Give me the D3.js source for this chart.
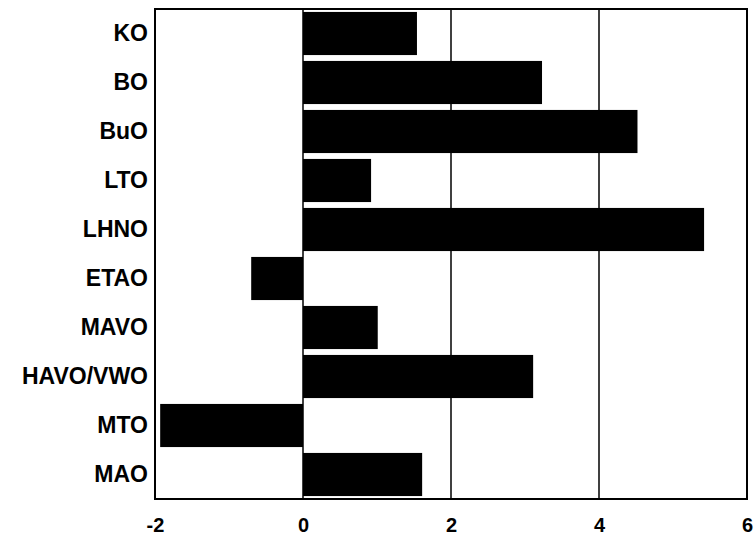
<!DOCTYPE html>
<html>
<head>
<meta charset="utf-8">
<script src="https://cdn.jsdelivr.net/npm/d3@7"></script>
<style>
  html, body { margin: 0; padding: 0; background: #fff; }
  svg { display: block; }
  text { font-family: "Liberation Sans", Arial, sans-serif; font-weight: bold; fill: #000; }
</style>
</head>
<body>
<svg id="chart" width="755" height="540"></svg>
<script>
const categories = ["KO", "BO", "BuO", "LTO", "LHNO", "ETAO", "MAVO", "HAVO/VWO", "MTO", "MAO"];
const values = [1.54, 3.23, 4.52, 0.92, 5.42, -0.70, 1.01, 3.11, -1.93, 1.61];
const xTicks = [-2, 0, 2, 4, 6];
const gridValues = [0, 2, 4];

const margin = { left: 155, top: 9, right: 8, bottom: 41 };
const W = 755, H = 540;
const svg = d3.select("#chart");

const x = d3.scaleLinear().domain([-2, 6]).range([margin.left, W - margin.right]);
const y = d3.scaleBand().domain(categories).range([margin.top, H - margin.bottom])
  .paddingInner(0.12).paddingOuter(0.06);

const data = categories.map((c, i) => ({ c, v: values[i] }));

// gridlines
svg.append("g").selectAll("line").data(gridValues).join("line")
  .attr("x1", d => x(d)).attr("x2", d => x(d))
  .attr("y1", margin.top).attr("y2", H - margin.bottom)
  .attr("stroke", "#000").attr("stroke-width", 1.5);

// bars
svg.append("g").selectAll("rect").data(data).join("rect")
  .attr("x", d => x(Math.min(0, d.v)))
  .attr("width", d => Math.abs(x(d.v) - x(0)))
  .attr("y", d => y(d.c))
  .attr("height", y.bandwidth())
  .attr("fill", "#000");

// frame
svg.append("rect")
  .attr("x", margin.left).attr("y", margin.top)
  .attr("width", W - margin.right - margin.left)
  .attr("height", H - margin.bottom - margin.top)
  .attr("fill", "none").attr("stroke", "#000").attr("stroke-width", 2);

// x axis
const xAxis = d3.axisBottom(x).tickValues(xTicks).tickSize(0).tickPadding(0).tickFormat(d => String(d));
const gx = svg.append("g").attr("transform", `translate(0,${H - margin.bottom})`).call(xAxis);
gx.select(".domain").remove();
gx.selectAll("text").attr("dy", null).attr("y", 33).style("font-size", "20px")
  .style("font-family", "'Liberation Sans', Arial, sans-serif").style("font-weight", "bold");

// y axis
const yAxis = d3.axisLeft(y).tickSize(0).tickPadding(7);
const gy = svg.append("g").attr("transform", `translate(${margin.left},0)`).call(yAxis);
gy.select(".domain").remove();
gy.selectAll("text").style("font-size", "23px")
  .style("font-family", "'Liberation Sans', Arial, sans-serif").style("font-weight", "bold");
</script>
</body>
</html>
